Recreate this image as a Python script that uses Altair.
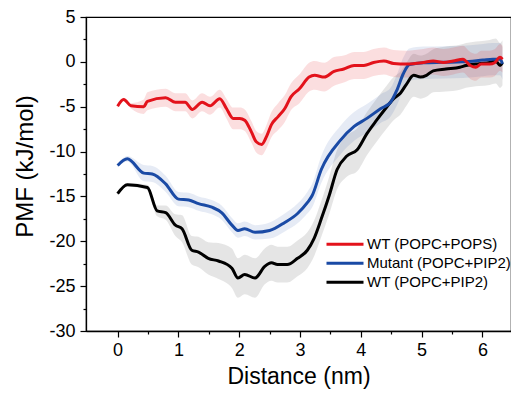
import altair as alt
import pandas as pd

series_names = ["WT (POPC+POPS)", "Mutant (POPC+PIP2)", "WT (POPC+PIP2)"]
series_colors = ["#e3121b", "#1a4aa5", "#000000"]
band_opacity = [0.14, 0.11, 0.10]

# WT (POPC+POPS) - red
red_d = [0.00, 0.10, 0.22, 0.43, 0.49, 0.79, 0.95, 1.11, 1.23, 1.39, 1.52, 1.68, 1.79, 1.90, 2.01, 2.09,
         2.20, 2.28, 2.37, 2.45, 2.53, 2.64, 2.75, 2.85, 2.99, 3.15, 3.24, 3.40, 3.56, 3.72, 3.89, 4.05,
         4.21, 4.38, 4.54, 4.75, 5.03, 5.19, 5.36, 5.52, 5.68, 5.80, 5.89, 5.98, 6.12, 6.20, 6.29, 6.33]
red_v = [-4.94, -4.2, -4.9, -5.0, -4.4, -4.0, -4.5, -4.5, -5.3, -4.5, -4.9, -4.1, -5.2, -6.3, -6.3, -6.5,
         -7.8, -8.9, -9.2, -8.3, -7.0, -6.1, -5.2, -3.9, -3.0, -1.7, -1.5, -1.7, -1.06, -0.8, -0.4, -0.4,
         -0.07, 0.1, -0.18, -0.25, -0.07, 0.1, -0.07, 0.1, 0.3, -0.4, -0.6, -0.25, -0.25, -0.1, 0.5, 0.3]
red_err = [0.2, 0.2, 0.3, 0.8, 1.0, 1.0, 1.0, 1.0, 1.0, 1.0, 1.0, 1.0, 1.1, 1.2, 1.2, 1.2,
           1.2, 1.2, 1.2, 1.3, 1.4, 1.5, 1.5, 1.5, 1.6, 1.6, 1.6, 1.6, 1.6, 1.5, 1.5, 1.5,
           1.5, 1.5, 1.5, 1.5, 1.5, 1.5, 1.5, 1.5, 1.5, 1.5, 1.5, 1.5, 1.5, 1.5, 1.5, 1.5]

# Mutant (POPC+PIP2) - blue
blue_d = [0.00, 0.16, 0.43, 0.57, 0.79, 1.00, 1.17, 1.33, 1.55, 1.71, 1.88, 1.98, 2.09, 2.26, 2.50,
          2.75, 2.96, 3.12, 3.20, 3.35, 3.67, 3.89, 4.10, 4.33, 4.49, 4.59, 4.70, 4.80, 5.03, 5.36,
          5.68, 6.01, 6.17, 6.29, 6.33]
blue_v = [-11.55, -10.8, -12.4, -12.5, -13.6, -15.3, -15.4, -15.8, -16.2, -16.8, -18.2, -18.8, -18.6, -19.0, -18.8,
          -17.9, -16.9, -15.7, -14.9, -12.0, -8.7, -7.2, -6.3, -5.2, -4.5, -3.2, -1.3, -0.3, -0.1, -0.05,
          0.0, 0.2, 0.3, 0.3, -0.2]
blue_err = [0.2, 0.3, 0.9, 0.9, 0.9, 0.8, 0.8, 0.8, 0.8, 0.8, 0.8, 0.8, 0.8, 0.8, 0.9,
            1.0, 1.1, 1.2, 1.3, 1.5, 1.6, 1.6, 1.6, 1.6, 1.6, 1.7, 1.8, 1.8, 1.8, 1.8,
            1.8, 1.8, 1.8, 1.8, 1.8]

# WT (POPC+PIP2) - black
black_d = [0.00, 0.16, 0.49, 0.65, 0.79, 0.95, 1.06, 1.22, 1.33, 1.49, 1.66, 1.88, 1.98, 2.09, 2.26,
           2.42, 2.53, 2.63, 2.79, 2.96, 3.12, 3.23, 3.35, 3.48, 3.61, 3.77, 3.94, 4.10, 4.26, 4.43,
           4.54, 4.65, 4.75, 4.87, 4.98, 5.08, 5.19, 5.40, 5.63, 5.73, 5.95, 6.12, 6.22, 6.29, 6.33]
black_v = [-14.7, -13.7, -14.0, -16.6, -16.8, -18.2, -18.6, -21.0, -21.2, -21.9, -22.2, -23.0, -24.1, -23.7, -24.1,
           -22.8, -22.4, -22.6, -22.6, -21.9, -21.0, -19.7, -17.5, -14.9, -12.0, -10.5, -9.8, -8.0, -6.5, -5.0,
           -4.1, -3.5, -2.5, -1.5, -1.7, -1.5, -1.0, -0.8, -0.6, -0.4, -0.2, -0.07, 0.1, -0.4, -0.1]
black_err = [0.2, 0.2, 0.3, 0.6, 0.8, 1.2, 1.5, 1.6, 1.7, 1.8, 2.0, 2.2, 2.2, 2.2, 2.2,
             2.0, 2.0, 2.0, 2.0, 2.0, 2.0, 2.0, 2.0, 2.1, 2.2, 2.3, 2.4, 2.4, 2.4, 2.4,
             2.4, 2.4, 2.4, 2.4, 2.4, 2.4, 2.4, 2.5, 2.5, 2.5, 2.5, 2.5, 2.5, 2.5, 2.5]

x_ticks = [0.0, 0.5, 1.0, 1.5, 2.0, 2.5, 3.0, 3.5, 4.0, 4.5, 5.0, 5.5, 6.0]
y_ticks = [-30, -27.5, -25, -22.5, -20, -17.5, -15, -12.5, -10, -7.5, -5, -2.5, 0, 2.5, 5]

rows = []
for name, ds, vs, es in [(series_names[2], black_d, black_v, black_err),
                         (series_names[1], blue_d, blue_v, blue_err),
                         (series_names[0], red_d, red_v, red_err)]:
    for d, v, e in zip(ds, vs, es):
        rows.append({"series": name, "d": d, "pmf": v, "lo": v - e, "hi": v + e})
df = pd.DataFrame(rows)

FONT = "Liberation Sans"

x_axis = alt.Axis(
    values=x_ticks,
    labelExpr="datum.value % 1 === 0 ? '' + datum.value : ''",
    tickSize={"condition": {"test": "datum.value % 1 === 0", "value": 6}, "value": 3},
    labelPadding=4, titlePadding=6, grid=False, titleFontSize=23,
)
y_axis = alt.Axis(
    values=y_ticks,
    labelExpr="datum.value % 5 === 0 ? '' + datum.value : ''",
    tickSize={"condition": {"test": "datum.value % 5 === 0", "value": 6}, "value": 3},
    labelPadding=5, titlePadding=11, grid=False, titleY=149,
)

xs = alt.Scale(domain=[-0.52, 6.47], nice=False, zero=False)
ys = alt.Scale(domain=[-30, 5], nice=False, zero=False)
cs = alt.Scale(domain=series_names, range=series_colors)

X = alt.X("d:Q", scale=xs, axis=x_axis, title="Distance (nm)")

bands = []
for name, col, op in zip(series_names[::-1], series_colors[::-1], band_opacity[::-1]):
    bands.append(
        alt.Chart(df).transform_filter(alt.datum.series == name)
        .mark_area(color=col, opacity=op, interpolate="monotone")
        .encode(
            x=X,
            y=alt.Y("lo:Q", scale=ys, axis=y_axis, title="PMF (kJ/mol)"),
            y2="hi:Q",
        )
    )

lines = alt.Chart(df).mark_line(strokeWidth=3, interpolate="monotone").encode(
    x=X,
    y=alt.Y("pmf:Q", scale=ys, axis=y_axis, title="PMF (kJ/mol)"),
    color=alt.Color("series:N", scale=cs, sort=series_names, legend=alt.Legend(
        title=None, orient="none", legendX=239, legendY=218,
        symbolType="stroke", symbolSize=1369, symbolStrokeWidth=3,
        labelFontSize=15, labelFont=FONT, labelColor="#000", labelOffset=2,
        padding=0, rowPadding=0, clipHeight=18.5,
    )),
)

chart = alt.layer(*bands, lines).properties(
    width=425, height=314,
    autosize=alt.AutoSizeParams(type="none"),
    padding={"left": 78, "top": 9, "right": 0, "bottom": 64},
).configure_view(
    stroke="#000", strokeWidth=1.2,
).configure_axis(
    domainColor="#000", domainWidth=1.3, tickColor="#000", tickWidth=1.2,
    labelFont=FONT, labelFontSize=18, labelColor="#000",
    titleFont=FONT, titleFontSize=24, titleFontWeight="normal", titleColor="#000",
)

chart.save("out.html", embed_options={"renderer": "svg", "actions": False})
